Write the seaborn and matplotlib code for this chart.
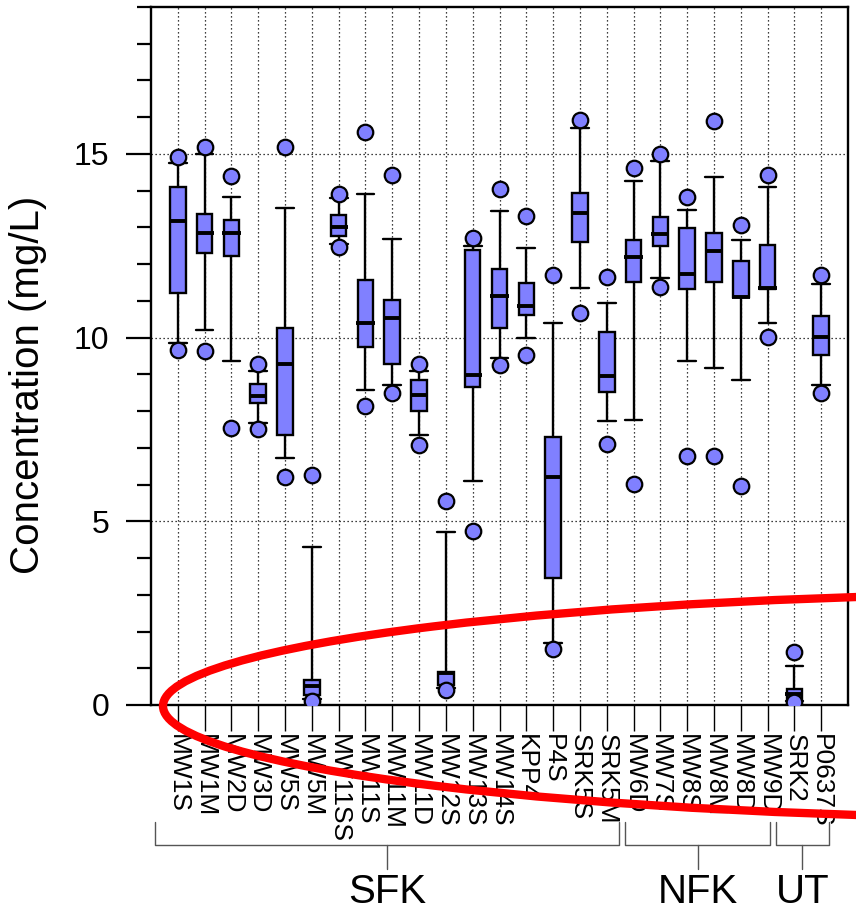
import matplotlib
matplotlib.use("Agg")
import matplotlib.pyplot as plt
from matplotlib.patches import Ellipse
from matplotlib.ticker import MultipleLocator
from matplotlib.transforms import ScaledTranslation
import numpy as np
import pandas as pd
import seaborn as sns

# Monitoring wells, in plotting order
wells = ["MW1S", "MW1M", "MW2D", "MW3D", "MW5S", "MW5M", "MW11SS", "MW11S",
         "MW11M", "MW11D", "MW12S", "MW13S", "MW14S", "KPP4", "P4S", "SRK5S",
         "SRK5M", "MW6D", "MW7S", "MW8S", "MW8M", "MW8D", "MW9D", "SRK2", "P0637S"]

# Summary statistics per well (mg/L)
conc_min   = [9.66, 9.64, 7.53, 7.52, 6.20, 0.12, 12.47, 8.15, 8.50, 7.09, 0.42, 4.75, 9.25,
              9.53, 1.52, 10.68, 7.11, 6.02, 11.39, 6.79, 6.79, 5.95, 10.02, 0.09, 8.50]
whisker_lo = [9.85, 10.21, 9.37, 7.68, 6.73, 0.15, 12.55, 8.57, 8.70, 7.34, 0.45, 6.11, 9.45,
              10.00, 1.70, 11.34, 7.73, 7.77, 11.62, 9.37, 9.18, 8.86, 10.39, 0.12, 8.70]
quart_lo   = [11.21, 12.30, 12.23, 8.22, 7.36, 0.28, 12.77, 9.75, 9.27, 8.00, 0.55, 8.66, 10.25,
              10.61, 3.45, 12.61, 8.52, 11.52, 12.50, 11.32, 11.52, 11.10, 11.33, 0.15, 9.52]
median     = [13.18, 12.86, 12.86, 8.41, 9.27, 0.52, 13.01, 10.41, 10.53, 8.45, 0.87, 8.97, 11.12,
              10.86, 6.20, 13.39, 8.95, 12.20, 12.82, 11.73, 12.36, 11.11, 11.34, 0.29, 10.03]
quart_hi   = [14.09, 13.36, 13.21, 8.73, 10.27, 0.68, 13.35, 11.56, 11.03, 8.86, 0.91, 12.39, 11.86,
              11.48, 7.30, 13.93, 10.14, 12.66, 13.29, 12.99, 12.86, 12.09, 12.52, 0.43, 10.59]
whisker_hi = [14.75, 15.00, 13.84, 9.10, 13.52, 4.30, 13.80, 13.91, 12.68, 9.10, 4.71, 12.50, 13.45,
              12.43, 10.41, 15.70, 10.94, 14.26, 14.80, 13.47, 14.38, 12.67, 14.11, 1.05, 11.47]
conc_max   = [14.93, 15.18, 14.39, 9.27, 15.20, 6.25, 13.91, 15.59, 14.43, 9.27, 5.55, 12.70, 14.04,
              13.30, 11.71, 15.93, 11.64, 14.63, 15.00, 13.84, 15.90, 13.07, 14.43, 1.43, 11.70]

# Watershed groups: (label, first well, last well)
groups = [("SFK", "MW1S", "SRK5M"), ("NFK", "MW6D", "MW9D"), ("UT", "SRK2", "P0637S")]

box_color = "#8080FF"

sns.set_theme(style="white")
plt.rcParams["font.family"] = ["Liberation Sans", "DejaVu Sans"]
plt.rcParams["text.color"] = "black"
plt.rcParams["xtick.color"] = "black"
plt.rcParams["ytick.color"] = "black"
plt.rcParams["axes.labelcolor"] = "black"

fig = plt.figure(figsize=(8.56, 9.16), dpi=100)
ax = fig.add_axes([151 / 856, 1 - 705 / 916, 697 / 856, 698 / 916])

pos = np.arange(len(wells))

stats = [dict(label=w, whislo=wl, q1=a, med=m, q3=b, whishi=wh, fliers=[])
         for w, wl, a, m, b, wh in zip(wells, whisker_lo, quart_lo, median, quart_hi, whisker_hi)]
ax.bxp(stats, positions=pos, widths=0.58, capwidths=0.66, patch_artist=True,
       showfliers=False,
       boxprops=dict(facecolor=box_color, edgecolor="black", linewidth=1.7),
       whiskerprops=dict(color="black", linewidth=1.7),
       capprops=dict(color="black", linewidth=1.7),
       medianprops=dict(linewidth=0), zorder=3)
ax.hlines(median, pos - 0.34, pos + 0.34, color="black", linewidth=2.8, zorder=4)

# Extreme values as circles
ext = pd.DataFrame({"pos": np.concatenate([pos, pos]),
                    "value": np.concatenate([conc_min, conc_max])})
sns.scatterplot(data=ext, x="pos", y="value", ax=ax, s=125, color=box_color,
                edgecolor="black", linewidth=1.6, zorder=5, legend=False)

ax.set_xlim(-1, 25)
ax.set_ylim(0, 19)
ax.set_xlabel("")
ax.set_ylabel("")

ax.set_xticks(pos)
ax.set_xticklabels(wells, rotation=-90, fontsize=19, va="top", ha="center")
shift = ScaledTranslation(-5 / 100, 0, fig.dpi_scale_trans)
for lab in ax.get_xticklabels():
    lab.set_transform(lab.get_transform() + shift)
ax.set_yticks([0, 5, 10, 15])
ax.set_yticklabels(["0", "5", "10", "15"], fontsize=23)
ax.yaxis.set_minor_locator(MultipleLocator(1))
ax.tick_params(axis="x", which="major", direction="out", length=19, width=1.0,
               color="black", labelcolor="black", pad=2, bottom=True)
ax.tick_params(axis="y", which="major", direction="out", length=18, width=1.6,
               color="black", labelcolor="black", pad=12, left=True)
ax.tick_params(axis="y", which="minor", direction="out", length=10, width=1.6,
               color="black", left=True)

ax.grid(True, which="major", axis="both", color="black", linestyle=(0, (1, 2.2)),
        linewidth=0.9)
ax.set_axisbelow(True)
for sp in ax.spines.values():
    sp.set_visible(True)
    sp.set_color("black")
    sp.set_linewidth(1.7)

fig.text(28 / 856, 1 - 385 / 916, "Concentration (mg/L)", rotation=90,
         ha="center", va="center", fontsize=29, color="black")

# Group brackets beneath the well labels
trans = ax.get_xaxis_transform()
spans = {"SFK": (-0.86, 16.46), "NFK": (16.69, 22.09), "UT": (22.31, 24.28)}
y_top, y_bar, y_stem, y_lab = -0.1676, -0.2006, -0.235, -0.268
for name, first, last in groups:
    x0, x1 = spans[name]
    xc = (x0 + x1) / 2
    ax.plot([x0, x0, x1, x1], [y_top, y_bar, y_bar, y_top], transform=trans,
            color="#555555", linewidth=1.0, clip_on=False)
    ax.plot([xc, xc], [y_bar, y_stem], transform=trans, color="#555555",
            linewidth=1.0, clip_on=False)
    ax.text(xc, y_lab, name, transform=trans, ha="center", va="center",
            fontsize=29, color="black")

# Highlight ring around the low-concentration zone
ring = Ellipse((1086 / 856, 210 / 916), 1846 / 856, 225 / 916, transform=fig.transFigure,
               fill=False, edgecolor="#FF0000", linewidth=6, zorder=10)
fig.add_artist(ring)

fig.savefig("out.png", dpi=100)
